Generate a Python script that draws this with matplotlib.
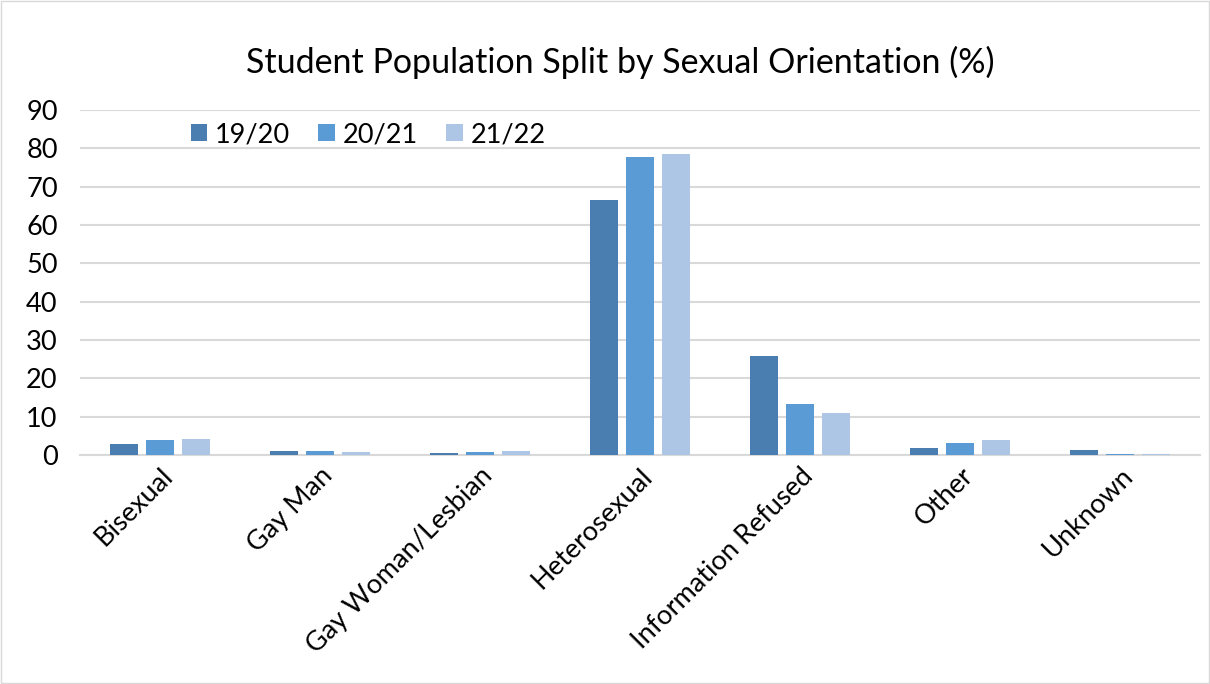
import numpy as np
import matplotlib
matplotlib.use("Agg")
from matplotlib import pyplot as plt

plt.rcParams['font.family'] = ['Lato', 'DejaVu Sans']

categories = ["Bisexual", "Gay Man", "Gay Woman/Lesbian", "Heterosexual",
              "Information Refused", "Other", "Unknown"]
years = ["19/20", "20/21", "21/22"]
v1920 = [2.9, 0.9, 0.5, 66.5, 25.8, 1.8, 1.3]
v2021 = [3.9, 1.0, 0.8, 77.7, 13.3, 3.1, 0.3]
v2122 = [4.2, 0.8, 1.0, 78.5, 11.0, 4.0, 0.2]
colors = ["#4a7eb0", "#5b9bd5", "#adc6e5"]

fig = plt.figure(figsize=(12.1, 6.84), dpi=100)
ax = fig.add_axes([0.066, 0.335, 0.926, 0.504])

x = np.arange(len(categories))
w = 0.177
step = 0.225
for i, (vals, lab) in enumerate(zip([v1920, v2021, v2122], years)):
    ax.bar(x + (i - 1) * step, vals, w, color=colors[i], label=lab, zorder=3)

ax.set_xlim(-0.5, len(categories) - 0.5)
ax.set_ylim(0, 90)
ax.set_yticks(range(0, 91, 10))
ax.yaxis.grid(True, color="#d9d9d9", lw=1.5, zorder=0)
for s in ["top", "right", "left"]:
    ax.spines[s].set_visible(False)
ax.spines["bottom"].set_color("#d9d9d9")
ax.spines["bottom"].set_linewidth(1.5)
ax.tick_params(axis="both", length=0, labelsize=19.5)
ax.tick_params(axis="y", pad=16)
ax.tick_params(axis="x", pad=6)
ax.set_xticks(x)
ax.set_xticklabels(categories, rotation=45, ha="right", rotation_mode="anchor")

ax.legend(loc="upper left", bbox_to_anchor=(0.077, 1.035), ncol=3, frameon=False,
          fontsize=19.5, handlelength=0.6, handleheight=0.6, handletextpad=0.3,
          columnspacing=1.05)

fig.text(0.513, 0.909, "Student Population Split by Sexual Orientation (%)",
         ha="center", va="center", fontsize=24.5)

fig.patches.append(plt.Rectangle((0.001, 0.001), 0.998, 0.998, transform=fig.transFigure,
                                 fill=False, edgecolor="#d9d9d9", lw=1))

fig.savefig("out.png", dpi=100)
